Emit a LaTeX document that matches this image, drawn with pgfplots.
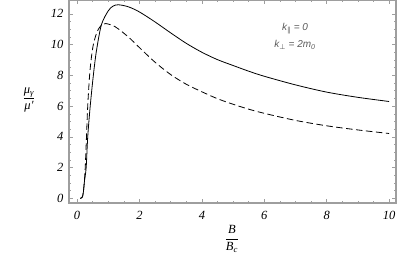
\documentclass[border=0pt]{standalone}
\usepackage{fontspec}
\setmainfont{Liberation Serif}
\newfontfamily\annfont{Liberation Sans}
\newfontfamily\symfont{DejaVu Sans}
\usepackage{pgfplots}
\pgfplotsset{compat=1.18}
\definecolor{framegray}{gray}{0.62}
\definecolor{anngray}{gray}{0.35}
\begin{document}
\begin{tikzpicture}[x=1pt,y=1pt]
\begin{axis}[
  at={(69pt,54pt)}, anchor=south west,
  width=327pt, height=203pt, scale only axis,
  xmin=-0.26, xmax=10.22, ymin=-0.3, ymax=12.9,
  xtick={0,2,4,6,8,10}, ytick={0,2,4,6,8,10,12},
  minor x tick num=3, minor y tick num=3,
  tick align=inside,
  major tick length=4pt, minor tick length=2.2pt,
  axis line style={framegray, line width=1.3pt},
  every tick/.style={framegray, line width=0.6pt},
  /pgf/number format/assume math mode=true,
  xticklabel={\textit{\pgfmathprintnumber{\tick}}},
  yticklabel={\textit{\pgfmathprintnumber{\tick}}},
  ticklabel style={font=\fontsize{12.5}{14}\selectfont, text=black},
  xticklabel style={yshift=-5pt},
  yticklabel style={xshift=-2pt},
  clip=false,
]
\addplot[black, line width=0.8pt, smooth, tension=0.5] coordinates {
(0.10,0.0) (0.17,0.1) (0.20,0.4) (0.24,1.2) (0.29,2.0) (0.34,4.0) (0.42,6.0)
(0.52,8.0) (0.62,9.6) (0.78,11.3) (1.0,12.2) (1.15,12.5) (1.32,12.59) (1.64,12.46)
(2.0,12.12) (2.5,11.47) (3.0,10.76) (3.5,10.08) (4.0,9.5) (4.5,9.02) (5.0,8.64)
(5.5,8.27) (6.0,7.94) (7.0,7.38) (8.0,6.91) (9.0,6.57) (10.0,6.3)
};
\addplot[black, line width=0.8pt, dash pattern=on 6.5pt off 3.5pt, smooth, tension=0.5] coordinates {
(0.10,0.0) (0.17,0.1) (0.22,0.8) (0.26,2.0) (0.30,4.0) (0.34,6.0) (0.40,8.0)
(0.46,9.2) (0.52,10.0) (0.60,10.6) (0.68,11.0) (0.80,11.3) (0.92,11.37) (1.22,11.16)
(1.64,10.5) (2.0,9.8) (2.5,8.85) (3.0,8.05) (3.5,7.42) (4.0,6.93) (4.5,6.48)
(5.0,6.12) (5.5,5.8) (6.0,5.53) (7.0,5.07) (8.0,4.72) (9.0,4.45) (10.0,4.22)
};
\end{axis}
\node[font=\fontsize{12.5}{14}\selectfont] at (29,157)
  {$\displaystyle\frac{\mbox{\itshape μ\textsubscript{γ}}}{\mbox{\itshape μ′}}$};
\node[font=\fontsize{12.5}{14}\selectfont] at (232,18)
  {$\displaystyle\frac{\mbox{\itshape B}}{\mbox{\itshape B\textsubscript{c}}}$};
\node[text=anngray, font=\annfont\itshape\fontsize{10}{12}\selectfont] at (295,228)
  {k\textsubscript{\symfont ∥} = 0};
\node[text=anngray, font=\annfont\itshape\fontsize{10}{12}\selectfont] at (295,212)
  {k\textsubscript{\symfont ⊥} = 2m\textsubscript{0}};
\pgfresetboundingbox
\useasboundingbox (0,0) rectangle (415,257);
\end{tikzpicture}
\end{document}
